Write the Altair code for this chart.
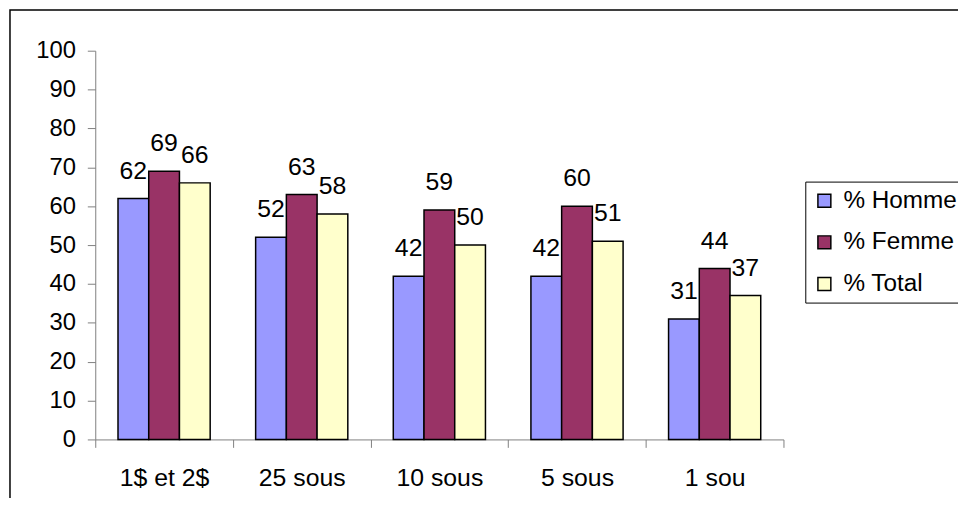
import altair as alt
import pandas as pd

categories = ["1$ et 2$", "25 sous", "10 sous", "5 sous", "1 sou"]
series = ["% Homme", "% Femme", "% Total"]
homme = [62, 52, 42, 42, 31]
femme = [69, 63, 59, 60, 44]
total = [66, 58, 50, 51, 37]
colors = ["#9999FF", "#993366", "#FFFFCC"]
y_ticks = list(range(0, 101, 10))

rows = []
for s, vals in zip(series, [homme, femme, total]):
    for c, v in zip(categories, vals):
        rows.append({"cat": c, "serie": s, "val": v})
df = pd.DataFrame(rows)

FONT = "Liberation Sans"

x_enc = alt.X("cat:N", sort=categories, title=None,
              scale=alt.Scale(paddingInner=0, paddingOuter=0),
              axis=alt.Axis(labelAngle=0, labelFontSize=25, labelFont=FONT, labelColor="black",
                            domainColor="#808080", tickColor="#808080", tickSize=8,
                            tickBand="extent", labelPadding=18))
xoff = alt.XOffset("serie:N", sort=series, scale=alt.Scale(paddingInner=0, paddingOuter=0.74))
y_enc = alt.Y("val:Q", title=None,
              scale=alt.Scale(domain=[0, 100], nice=False),
              axis=alt.Axis(values=y_ticks, tickCount=20, grid=False, labelFontSize=24,
                            labelFont=FONT, labelColor="black", domainColor="#808080",
                            tickColor="#808080", tickSize=8, labelPadding=12,
                            labelOverlap=False))

border = alt.Chart(pd.DataFrame({"a": [0]})).mark_rect(
    filled=False, stroke="black", strokeWidth=1.5
).encode(x=alt.value(-86), x2=alt.value(3000), y=alt.value(-41), y2=alt.value(3000))

bars = alt.Chart(df).mark_bar(stroke="black", strokeWidth=1.5).encode(
    x=x_enc, xOffset=xoff, y=y_enc,
    color=alt.Color("serie:N", sort=series,
                    scale=alt.Scale(domain=series, range=colors),
                    legend=alt.Legend(title=None, orient="none", legendX=716, legendY=132,
                                      strokeColor="black", padding=7, symbolType="square",
                                      symbolSize=170, symbolStrokeColor="black",
                                      symbolStrokeWidth=1.5, symbolOpacity=1,
                                      labelFontSize=24.5, labelFont=FONT, labelColor="black",
                                      rowPadding=17, labelOffset=7, labelLimit=400)),
)

labels = alt.Chart(df).mark_text(baseline="alphabetic", dy=-20, fontSize=25, font=FONT,
                                 color="black").encode(
    x=x_enc, xOffset=xoff, y=y_enc, text="val:Q")

chart = alt.layer(border, bars, labels).properties(
    width=694, height=392,
    autosize=alt.AutoSizeParams(type="none"),
    padding={"left": 88, "top": 41, "right": 176, "bottom": 57},
    background="white",
).configure_view(stroke=None)

chart.save("out.html", embed_options={"renderer": "svg", "actions": False})
